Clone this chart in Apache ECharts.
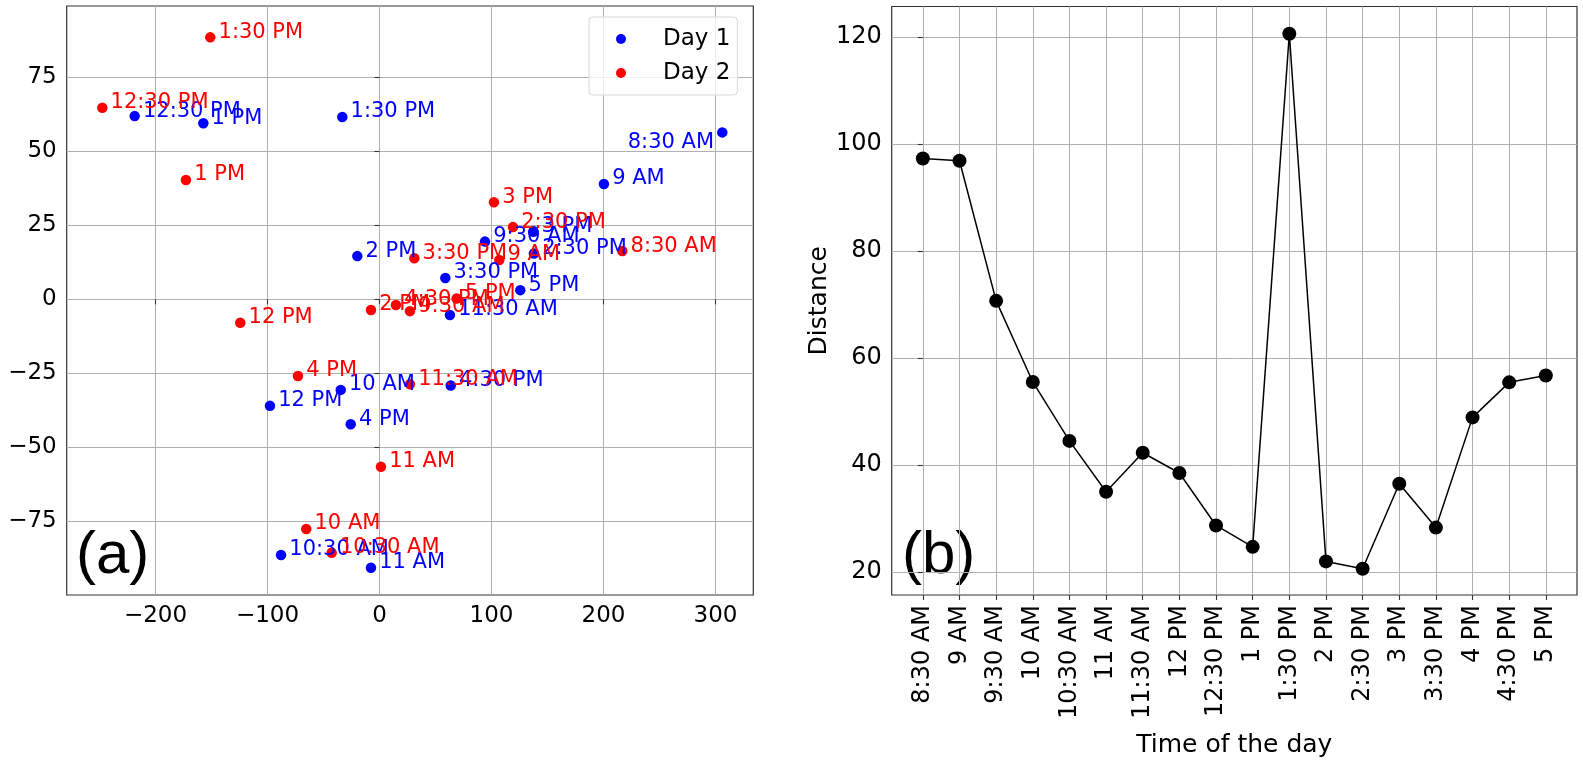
<!DOCTYPE html>
<html><head><meta charset="utf-8">
<script src="https://cdn.jsdelivr.net/npm/echarts@6/dist/echarts.min.js"></script>
<style>html,body{margin:0;padding:0;background:#fff}#c{width:1583px;height:763px}</style>
</head><body><div id="c"></div>
<script>
const timeLabels = ['8:30 AM','9 AM','9:30 AM','10 AM','10:30 AM','11 AM','11:30 AM','12 PM','12:30 PM','1 PM','1:30 PM','2 PM','2:30 PM','3 PM','3:30 PM','4 PM','4:30 PM','5 PM'];
const day1X = [306.1, 200.4, 94.2, -34.6, -87.9, -7.6, 62.9, -97.8, -218.6, -157.3, -33.2, -19.8, 137.9, 137.3, 58.8, -25.7, 63.6, 125.7];
const day1Y = [56.4, 38.95, 19.5, -30.6, -86.4, -90.7, -5.3, -36.0, 61.9, 59.5, 61.6, 14.6, 15.5, 22.8, 7.2, -42.2, -29.1, 3.1];
const day2X = [216.8, 107.0, 27.2, -65.4, -42.7, 1.3, 27.2, -124.3, -247.5, -172.8, -151.1, -7.6, 119.2, 102.2, 31.1, -72.8, 14.7, 68.9];
const day2Y = [16.3, 13.3, -4.0, -77.6, -85.6, -56.6, -28.7, -7.9, 64.7, 40.3, 88.5, -3.6, 24.4, 32.8, 13.9, -25.9, -1.9, 0.3];
const distance = [97.3, 96.87, 70.68, 55.52, 44.5, 34.99, 42.29, 38.5, 28.7, 24.7, 120.6, 21.98, 20.6, 36.5, 28.3, 48.9, 55.45, 56.74];
const scatterXTicks = [-200, -100, 0, 100, 200, 300];
const scatterYTicks = [-75, -50, -25, 0, 25, 50, 75];
const distYTicks = [20, 40, 60, 80, 100, 120];
const distXTicks = timeLabels.map((_, i) => i);

const FONT = 'DejaVu Sans';
const minus = v => String(v).replace('-', '\u2212');

function valAxis(gridIndex, min, max, ticks, fontSize, extra) {
  return Object.assign({
    type: 'value', gridIndex, min, max,
    axisLine: { show: false },
    axisTick: { show: true, inside: false, length: 5, customValues: ticks, lineStyle: { color: '#333', width: 1.1 } },
    axisLabel: { customValues: ticks, color: '#000', fontFamily: FONT, fontSize, margin: 10, formatter: minus },
    splitLine: { show: true, lineStyle: { color: '#b0b0b0', width: 1 } }
  }, extra || {});
}

function scatterData(xs, ys, day) {
  return xs.map((x, i) => {
    const item = { name: timeLabels[i], value: [x, ys[i]] };
    if (day === 1 && i === 0) {
      item.label = { position: 'left', distance: 3, offset: [0, 10] };
    }
    return item;
  });
}

function scatterSeries(name, color, xs, ys, day) {
  return {
    type: 'scatter', name, xAxisIndex: 0, yAxisIndex: 0,
    symbolSize: 10.5,
    itemStyle: { color, opacity: 1 },
    label: { show: true, position: 'right', distance: 3, offset: [0, -5], formatter: '{b}', color, fontFamily: FONT, fontSize: 21 },
    emphasis: { disabled: true },
    data: scatterData(xs, ys, day)
  };
}

const chart = echarts.init(document.getElementById('c'), null, { renderer: 'canvas' });
chart.setOption({
  animation: false,
  backgroundColor: '#fff',
  grid: [
    { left: 66.7, top: 6, width: 686.6, height: 589, show: true, borderColor: '#333', borderWidth: 1.2, backgroundColor: 'transparent' },
    { left: 891.7, top: 6.5, width: 685.3, height: 588.5, show: true, borderColor: '#333', borderWidth: 1.2, backgroundColor: 'transparent' }
  ],
  legend: {
    data: ['Day 1', 'Day 2'], orient: 'vertical', left: 589, top: 17,
    icon: 'circle', itemWidth: 10, itemHeight: 10, itemGap: 10,
    padding: [10, 7, 10, 27],
    borderColor: '#d9d9d9', borderWidth: 1, borderRadius: 4,
    backgroundColor: 'rgba(255,255,255,0.8)',
    textStyle: { fontFamily: FONT, fontSize: 23, color: '#000', lineHeight: 24, padding: [0, 0, 0, 32] },
    selectedMode: false
  },
  xAxis: [
    valAxis(0, -279.3, 333.8, scatterXTicks, 23, {}),
    valAxis(1, -0.85, 17.85, distXTicks, 24, {
      name: 'Time of the day', nameLocation: 'middle', nameGap: 138,
      nameTextStyle: { fontFamily: FONT, fontSize: 25, color: '#000' },
      axisLabel: { customValues: distXTicks, rotate: 90, color: '#000', fontFamily: FONT, fontSize: 24, margin: 10, formatter: v => timeLabels[Math.round(v)] }
    })
  ],
  yAxis: [
    valAxis(0, -99.9, 99.1, scatterYTicks, 23, {}),
    valAxis(1, 15.7, 125.7, distYTicks, 24, {
      name: 'Distance', nameLocation: 'middle', nameGap: 60,
      nameTextStyle: { fontFamily: FONT, fontSize: 25, color: '#000' }
    })
  ],
  graphic: [
    { type: 'text', left: 76, top: 526, style: { text: '(a)', font: '60px "Liberation Sans"', fill: '#000' } },
    { type: 'text', left: 902, top: 526, style: { text: '(b)', font: '60px "Liberation Sans"', fill: '#000' } }
  ],
  series: [
    scatterSeries('Day 1', '#0000ff', day1X, day1Y, 1),
    scatterSeries('Day 2', '#ff0000', day2X, day2Y, 2),
    {
      type: 'line', xAxisIndex: 1, yAxisIndex: 1,
      symbol: 'circle', symbolSize: 14,
      itemStyle: { color: '#000' },
      lineStyle: { color: '#000', width: 1.5 },
      emphasis: { disabled: true },
      data: distance.map((v, i) => [i, v])
    }
  ]
});
</script></body></html>
